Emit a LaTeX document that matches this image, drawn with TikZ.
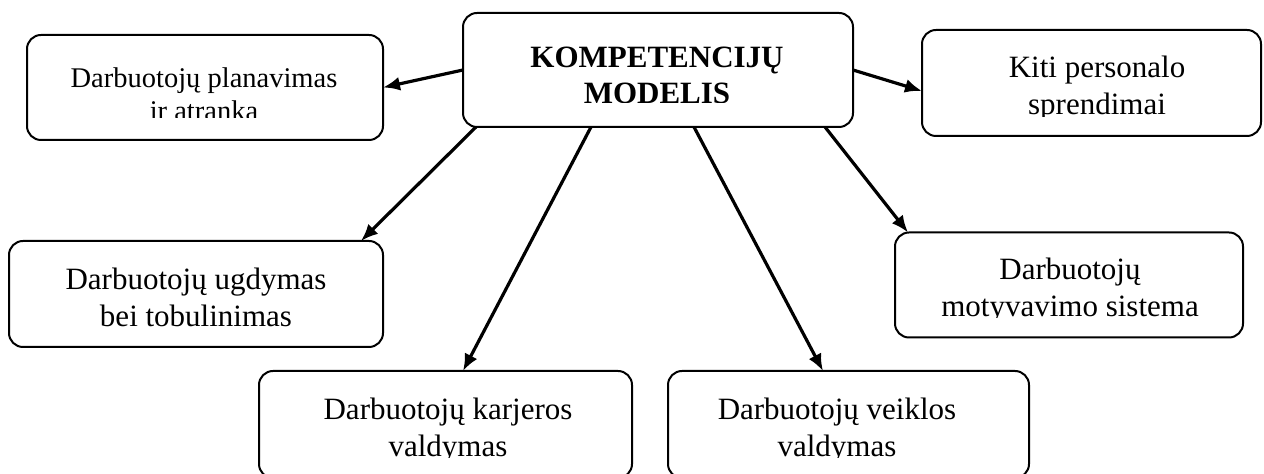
\documentclass[tikz,border=0pt]{standalone}
\usepackage{fontspec}
\setmainfont{Liberation Serif}
\usetikzlibrary{arrows.meta,calc}
\tikzset{
  box/.style={draw, line width=1pt, rounded corners=7pt, inner sep=0pt, outer sep=0pt},
  txt/.style={anchor=base, align=center, inner sep=0pt, font=\fontsize{15.5}{18.5}\selectfont},
  arr/.style={line width=1.6pt, -{Latex[length=8.5pt,width=7pt]}}
}
\begin{document}
\begin{tikzpicture}[x=0.5pt,y=-0.5pt]
\useasboundingbox (0,0) rectangle (1264,474);
\clip (0,0) rectangle (1264,474);
\fill[white] (0,0) rectangle (1264,474);
% boxes
\node[box, minimum width=195pt, minimum height=57pt] (c) at (658,70) {};
\node[box, minimum width=178pt, minimum height=52.5pt] (tl) at (205,87.5) {};
\node[box, minimum width=169.5pt, minimum height=53pt] (k) at (1091.5,83) {};
\node[box, minimum width=187pt, minimum height=53pt] (ug) at (196,294) {};
\node[box, minimum width=174pt, minimum height=52.5pt] (mo) at (1069,285) {};
\node[box, minimum width=186.5pt, minimum height=53.5pt] (ka) at (445.5,424.5) {};
\node[box, minimum width=180.5pt, minimum height=53.5pt] (ve) at (848.5,424.5) {};
% texts (clipped as in the original text boxes); position = last baseline
\begin{scope}
  \clip (463,13) rectangle (853,103);
  \node[txt, font=\fontsize{15.5}{18}\selectfont\bfseries] (ct) at (657,104) {KOMPETENCIJŲ\\MODELIS};
\end{scope}
\begin{scope}
  \clip (27,35) rectangle (383,118);
  \node[txt, font=\fontsize{14.25}{16.5}\selectfont] (tlt) at (204,121) {Darbuotojų planavimas\\ir atranka};
\end{scope}
\begin{scope}
  \clip (922,30) rectangle (1261,117);
  \node[txt] (kt) at (1097,115) {Kiti personalo\\sprendimai};
\end{scope}
\node[txt] (ugt) at (196,327) {Darbuotojų ugdymas\\bei tobulinimas};
\begin{scope}
  \clip (895,232) rectangle (1243,318);
  \node[txt] (mot) at (1070,317) {Darbuotojų\\motyvavimo sistema};
\end{scope}
\begin{scope}
  \clip (259,371) rectangle (632,458);
  \node[txt] (kat) at (448,457) {Darbuotojų karjeros\\valdymas};
\end{scope}
\begin{scope}
  \clip (668,371) rectangle (1029,458);
  \node[txt] (vet) at (837,457) {Darbuotojų veiklos\\valdymas};
\end{scope}
% connectors
\draw[arr] (c.west) -- (tl.east);
\draw[arr] (c.east) -- ($(k.west)+(0,8)$);
\draw[arr] ($(c.south west)+(13,0)$) -- ($(ug.north east)+(-22,0)$);
\draw[arr] ($(c.south west)+(128,0)$) -- ($(ka.north west)+(204,0)$);
\draw[arr] ($(c.south west)+(231,0)$) -- ($(ve.north west)+(155,0)$);
\draw[arr] ($(c.south east)+(-28,0)$) -- ($(mo.north west)+(13,0)$);
\end{tikzpicture}
\end{document}
